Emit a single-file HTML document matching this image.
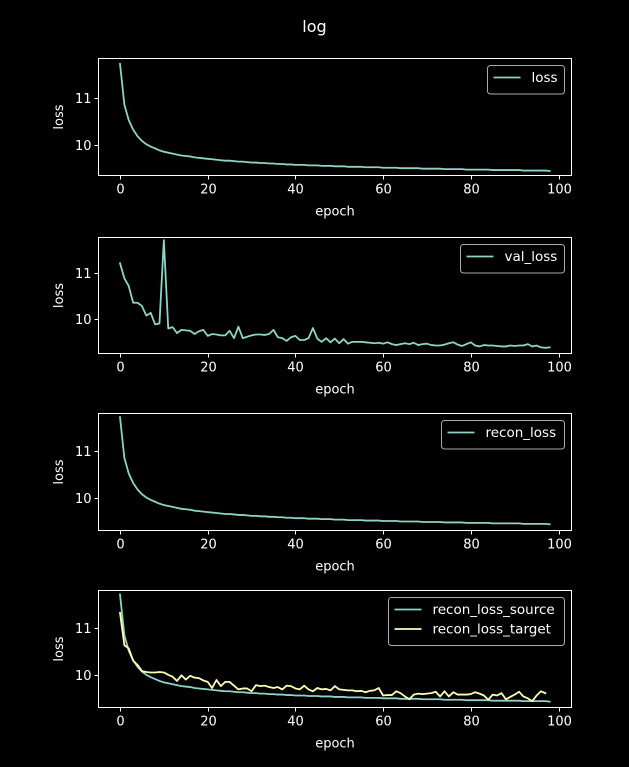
<!DOCTYPE html>
<html><head><meta charset="utf-8">
<style>
html,body{margin:0;padding:0;background:#000;}
svg{display:block;font-family:"DejaVu Sans","Liberation Sans",sans-serif;}
</style></head>
<body>
<svg id="fig" width="629" height="767" viewBox="0 0 629 767">
<rect width="629" height="767" fill="#000"/>
<text x="314.5" y="32" fill="#fff" font-size="16" text-anchor="middle">log</text>
</svg>
<script>
const epochs = Array.from({length: 99}, (_, i) => i);
const xTicks = [0, 20, 40, 60, 80, 100];
const yTicks = [10, 11];
const lossValues = [11.72,10.85,10.52,10.32,10.18,10.08,10.01,9.96,9.92,9.88,9.85,9.83,9.81,9.79,9.77,9.76,9.75,9.73,9.72,9.71,9.70,9.69,9.68,9.67,9.66,9.66,9.65,9.64,9.64,9.63,9.62,9.62,9.61,9.61,9.60,9.60,9.59,9.59,9.58,9.58,9.57,9.57,9.57,9.56,9.56,9.56,9.55,9.55,9.55,9.54,9.54,9.54,9.53,9.53,9.53,9.53,9.52,9.52,9.52,9.52,9.51,9.51,9.51,9.51,9.50,9.50,9.50,9.50,9.50,9.49,9.49,9.49,9.49,9.49,9.48,9.48,9.48,9.48,9.48,9.47,9.47,9.47,9.47,9.47,9.47,9.46,9.46,9.46,9.46,9.46,9.46,9.46,9.45,9.45,9.45,9.45,9.45,9.45,9.44];
const valLossValues = [11.22,10.89,10.72,10.36,10.36,10.29,10.08,10.14,9.89,9.91,11.72,9.80,9.83,9.70,9.77,9.76,9.75,9.68,9.74,9.77,9.64,9.68,9.67,9.65,9.65,9.75,9.59,9.84,9.59,9.62,9.65,9.67,9.67,9.66,9.68,9.77,9.61,9.59,9.53,9.61,9.64,9.55,9.55,9.59,9.81,9.58,9.51,9.59,9.50,9.58,9.48,9.57,9.47,9.51,9.51,9.51,9.50,9.49,9.48,9.49,9.47,9.50,9.46,9.44,9.46,9.48,9.46,9.49,9.44,9.46,9.47,9.44,9.43,9.43,9.45,9.48,9.50,9.45,9.42,9.46,9.50,9.43,9.41,9.44,9.43,9.43,9.42,9.41,9.41,9.43,9.42,9.43,9.43,9.46,9.41,9.43,9.39,9.38,9.39];
const reconLossValues = [11.72,10.85,10.52,10.32,10.18,10.08,10.01,9.96,9.92,9.88,9.85,9.83,9.81,9.79,9.77,9.76,9.75,9.73,9.72,9.71,9.70,9.69,9.68,9.67,9.66,9.66,9.65,9.64,9.64,9.63,9.62,9.62,9.61,9.61,9.60,9.60,9.59,9.59,9.58,9.58,9.57,9.57,9.57,9.56,9.56,9.56,9.55,9.55,9.55,9.54,9.54,9.54,9.53,9.53,9.53,9.53,9.52,9.52,9.52,9.52,9.51,9.51,9.51,9.51,9.50,9.50,9.50,9.50,9.50,9.49,9.49,9.49,9.49,9.49,9.48,9.48,9.48,9.48,9.48,9.47,9.47,9.47,9.47,9.47,9.47,9.46,9.46,9.46,9.46,9.46,9.46,9.46,9.45,9.45,9.45,9.45,9.45,9.45,9.44];
const reconSourceValues = [11.72,10.85,10.52,10.32,10.18,10.08,10.01,9.96,9.92,9.88,9.85,9.83,9.81,9.79,9.77,9.76,9.75,9.73,9.72,9.71,9.70,9.69,9.68,9.67,9.66,9.66,9.65,9.64,9.64,9.63,9.62,9.62,9.61,9.61,9.60,9.60,9.59,9.59,9.58,9.58,9.57,9.57,9.57,9.56,9.56,9.56,9.55,9.55,9.55,9.54,9.54,9.54,9.53,9.53,9.53,9.53,9.52,9.52,9.52,9.52,9.51,9.51,9.51,9.51,9.50,9.50,9.50,9.50,9.50,9.49,9.49,9.49,9.49,9.49,9.48,9.48,9.48,9.48,9.48,9.47,9.47,9.47,9.47,9.47,9.47,9.46,9.46,9.46,9.46,9.46,9.46,9.46,9.45,9.45,9.45,9.45,9.45,9.45,9.44];
const reconTargetValues = [11.33,10.64,10.57,10.31,10.22,10.09,10.07,10.06,10.06,10.07,10.06,10.01,9.97,9.88,10.00,9.91,9.99,9.95,9.94,9.89,9.86,9.73,9.90,9.77,9.86,9.86,9.78,9.70,9.72,9.72,9.66,9.79,9.77,9.78,9.75,9.73,9.75,9.70,9.78,9.77,9.72,9.70,9.78,9.70,9.66,9.73,9.70,9.71,9.68,9.77,9.70,9.69,9.68,9.68,9.66,9.67,9.64,9.67,9.68,9.73,9.57,9.58,9.58,9.66,9.62,9.55,9.49,9.59,9.61,9.60,9.61,9.62,9.65,9.55,9.66,9.55,9.64,9.59,9.59,9.59,9.60,9.64,9.61,9.57,9.48,9.59,9.57,9.62,9.49,9.54,9.59,9.65,9.55,9.51,9.45,9.57,9.66,9.62];

const svg = document.getElementById('fig');
const NS = 'http://www.w3.org/2000/svg';
const TEAL = '#8dd3c7', YEL = '#feffb3';
function mk(tag, attrs, parent){ const e=document.createElementNS(NS,tag); for(const k in attrs) e.setAttribute(k,attrs[k]); (parent||svg).appendChild(e); return e; }

const X0 = 98.5, X1 = 571.5;
function xScale(v){ return 120 + v * 4.385; }

const panels = [
  {name:'loss', top:58.5, bottom:175.5, y11:97.7, y10:144.7, series:[{label:'loss', data:lossValues, color:TEAL}], legW:77},
  {name:'val-loss', top:237.5, bottom:353.5, y11:273.3, y10:319.3, series:[{label:'val_loss', data:valLossValues, color:TEAL}], legW:104},
  {name:'recon-loss', top:413.5, bottom:530.5, y11:451, y10:498, series:[{label:'recon_loss', data:reconLossValues, color:TEAL}], legW:123},
  {name:'recon-loss-split', top:590.5, bottom:707.5, y11:628.3, y10:675.3, series:[{label:'recon_loss_source', data:reconSourceValues, color:TEAL},{label:'recon_loss_target', data:reconTargetValues, color:YEL}], legW:176}
];

panels.forEach(p => {
  const g = mk('g', {});
  
  
  const yScale = v => p.y10 + (10 - v) * (p.y10 - p.y11);
  const cid = 'clip-' + p.name;
  const cp = mk('clipPath', {id: cid}, g);
  mk('rect', {x:X0, y:p.top, width:X1-X0, height:p.bottom-p.top}, cp);
  p.series.forEach(s => {
    const d = s.data.map((v,i) => (i?'L':'M') + xScale(epochs[i]).toFixed(2) + ',' + yScale(v).toFixed(2)).join('');
    const path = mk('path', {d, fill:'none', stroke:s.color, 'stroke-width':1.8, 'stroke-linejoin':'round', 'stroke-linecap':'square', 'clip-path':'url(#'+cid+')'}, g);
    
    
  });
  const fr = mk('rect', {x:X0, y:p.top, width:X1-X0, height:p.bottom-p.top, fill:'none', stroke:'#fff', 'stroke-width':1}, g);
  
  
  xTicks.forEach(t => {
    const x = Math.round(xScale(t)) + 0.5;
    mk('line', {x1:x, x2:x, y1:p.bottom, y2:p.bottom+4, stroke:'#fff', 'stroke-width':1}, g);
    const tx = mk('text', {x:x, y:p.bottom+18, fill:'#fff', 'font-size':13, 'text-anchor':'middle'}, g);
    tx.textContent = t;
    
    
  });
  yTicks.forEach(t => {
    const y = Math.round(yScale(t)) + 0.5;
    mk('line', {x1:X0-4, x2:X0, y1:y, y2:y, stroke:'#fff', 'stroke-width':1}, g);
    const tx = mk('text', {x:X0-7, y:y+4.5, fill:'#fff', 'font-size':13, 'text-anchor':'end'}, g);
    tx.textContent = t;
    
    
  });
  const xl = mk('text', {x:(X0+X1)/2, y:p.bottom+40, fill:'#fff', 'font-size':13, 'text-anchor':'middle'}, g);
  xl.textContent = 'epoch';
  
  
  const ym = (p.top+p.bottom)/2;
  const yl = mk('text', {x:63, y:ym, fill:'#fff', 'font-size':13, 'text-anchor':'middle', transform:'rotate(-90 63 '+ym+')'}, g);
  yl.textContent = 'loss';
  
  
  const lh = 9 + p.series.length * 19.5;
  const lx = 564.5 - p.legW, ly = p.top + 7;
  const lg = mk('g', {}, g);
  
  
  mk('rect', {x:lx, y:ly, width:p.legW, height:lh, rx:3, fill:'#000', 'fill-opacity':0.8, stroke:'#aaa', 'stroke-width':1}, lg);
  p.series.forEach((s,i) => {
    const yy = ly + 12 + i*19.5;
    const ln = mk('line', {x1:lx+6, x2:lx+33, y1:yy, y2:yy, stroke:s.color, 'stroke-width':1.8}, lg);
    
    
    const t = mk('text', {x:lx+44, y:yy+4.5, fill:'#fff', 'font-size':13.5}, lg);
    t.textContent = s.label;
    
    
  });
});
</script>
</body></html>
